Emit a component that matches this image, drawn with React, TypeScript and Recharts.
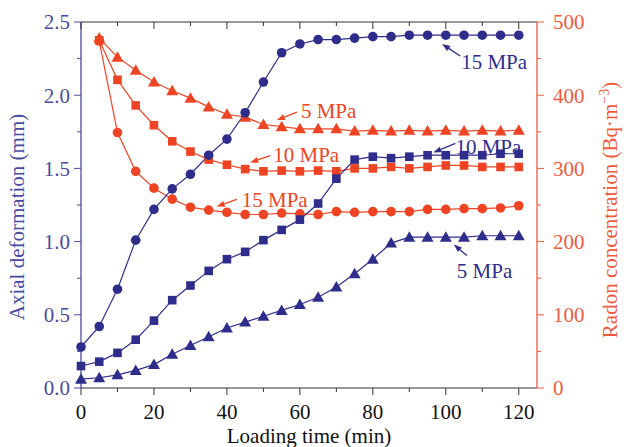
import React from "react";
import {
  ComposedChart,
  Line,
  XAxis,
  YAxis,
  ReferenceDot,
} from "recharts";

const minutes = [0, 5, 10, 15, 20, 25, 30, 35, 40, 45, 50, 55, 60, 65, 70, 75, 80, 85, 90, 95, 100, 105, 110, 115, 120];
const axial15 = [0.28, 0.42, 0.675, 1.01, 1.22, 1.36, 1.46, 1.59, 1.7, 1.88, 2.09, 2.29, 2.35, 2.38, 2.38, 2.39, 2.4, 2.4, 2.41, 2.41, 2.41, 2.41, 2.41, 2.41, 2.41];
const axial10 = [0.15, 0.18, 0.24, 0.33, 0.46, 0.6, 0.7, 0.8, 0.88, 0.93, 1.01, 1.08, 1.15, 1.26, 1.43, 1.56, 1.58, 1.57, 1.58, 1.59, 1.59, 1.59, 1.59, 1.6, 1.6];
const axial5 = [0.06, 0.07, 0.09, 0.12, 0.16, 0.23, 0.29, 0.35, 0.41, 0.45, 0.49, 0.53, 0.57, 0.62, 0.69, 0.78, 0.88, 0.99, 1.03, 1.03, 1.03, 1.03, 1.04, 1.04, 1.04];
const radon15 = [null, 474, 349, 296, 273, 258, 247, 243, 240, 237, 237, 239, 238, 237, 241, 240, 241, 241, 241, 244, 244, 245, 245, 246, 249];
const radon10 = [null, 475, 421, 386, 359, 337, 323, 312, 305, 299, 296, 297, 296, 297, 296, 300, 300, 302, 300, 302, 304, 304, 302, 302, 302];
const radon5 = [null, 478, 452, 434, 418, 406, 396, 384, 374, 370, 360, 357, 354, 354, 354, 351, 352, 351, 352, 351, 352, 351, 352, 351, 352];

const xTicks = [0, 10, 20, 30, 40, 50, 60, 70, 80, 90, 100, 110, 120];
const leftTicks = [0, 0.25, 0.5, 0.75, 1, 1.25, 1.5, 1.75, 2, 2.25, 2.5];
const rightTicks = [0, 50, 100, 150, 200, 250, 300, 350, 400, 450, 500];

const data = minutes.map((t, i) => ({
  t,
  a15: axial15[i],
  a10: axial10[i],
  a5: axial5[i],
  r15: radon15[i],
  r10: radon10[i],
  r5: radon5[i],
}));

const BLUE = "#2e2d8c";
const BLUE_AXIS = "#4a4aa2";
const RED = "#ef4424";
const RED_AXIS = "#f05a3c";
const FONT = "'Liberation Serif', 'DejaVu Serif', serif";
const FS = 21;

const circleDot = (color: string) => (p: any) => {
  if (p.value == null || p.cy == null) return <g key={p.key} />;
  return <circle key={p.key} cx={p.cx} cy={p.cy} r={4.8} fill={color} stroke="none" />;
};
const squareDot = (color: string) => (p: any) => {
  if (p.value == null || p.cy == null) return <g key={p.key} />;
  return <rect key={p.key} x={p.cx - 4.3} y={p.cy - 4.3} width={8.6} height={8.6} fill={color} stroke="none" />;
};
const triDot = (color: string) => (p: any) => {
  if (p.value == null || p.cy == null) return <g key={p.key} />;
  const { cx, cy } = p;
  return (
    <polygon
      key={p.key}
      points={`${cx},${cy - 6} ${cx - 6},${cy + 4.5} ${cx + 6},${cy + 4.5}`}
      fill={color}
      stroke="none"
    />
  );
};

const BottomTick = (p: any) => {
  const v = p.payload.value;
  const major = v % 20 === 0;
  return (
    <g>
      <line x1={p.x} x2={p.x} y1={p.y} y2={p.y + (major ? 7 : 4)} stroke="#333" />
      {major && (
        <text x={p.x} y={p.y + 31} textAnchor="middle" fontSize={FS} fontFamily={FONT} fill="#111">
          {v}
        </text>
      )}
    </g>
  );
};
const TopTick = (p: any) => {
  const v = p.payload.value;
  const major = v % 20 === 0;
  return <line x1={p.x} x2={p.x} y1={p.y} y2={p.y + (major ? 7 : 4)} stroke="#333" />;
};
const LeftTick = (p: any) => {
  const v = p.payload.value;
  const major = Math.abs(v * 2 - Math.round(v * 2)) < 1e-6;
  return (
    <g>
      <line x1={p.x} x2={p.x - (major ? 7 : 4)} y1={p.y} y2={p.y} stroke={BLUE_AXIS} />
      {major && (
        <text x={p.x - 11} y={p.y} dy="0.35em" textAnchor="end" fontSize={FS} fontFamily={FONT} fill={BLUE_AXIS}>
          {v.toFixed(1)}
        </text>
      )}
    </g>
  );
};
const RightTick = (p: any) => {
  const v = p.payload.value;
  const major = v % 100 === 0;
  return (
    <g>
      <line x1={p.x} x2={p.x + (major ? 7 : 4)} y1={p.y} y2={p.y} stroke={RED_AXIS} />
      {major && (
        <text x={p.x + 16} y={p.y} dy="0.35em" textAnchor="start" fontSize={FS} fontFamily={FONT} fill={RED_AXIS}>
          {v}
        </text>
      )}
    </g>
  );
};

// arrow with label, anchored at the arrow tip
const note = (text: string, color: string, dx: number, dy: number, tx: number, ty: number) => (p: any) => {
  const { cx, cy } = p;
  const ex = cx + dx;
  const ey = cy + dy;
  const len = Math.hypot(dx, dy);
  const ux = dx / len;
  const uy = dy / len;
  const hl = 8;
  const hw = 3;
  const bx = cx + ux * hl;
  const by = cy + uy * hl;
  return (
    <g>
      <line x1={bx} y1={by} x2={ex} y2={ey} stroke={color} strokeWidth={1.3} />
      <polygon
        points={`${cx},${cy} ${bx - uy * hw},${by + ux * hw} ${bx + uy * hw},${by - ux * hw}`}
        fill={color}
      />
      <text x={cx + tx} y={cy + ty} dy="0.35em" fontSize={FS} fontFamily={FONT} fill={color}>
        {text}
      </text>
    </g>
  );
};

export default function App() {
  return (
    <div style={{ position: "absolute", left: 0, top: 0, width: 624, height: 447, background: "#fff" }}>
      <ComposedChart
        width={624}
        height={447}
        data={data}
        margin={{ top: 0, right: 0, bottom: 0, left: 0 }}
        style={{ fontFamily: FONT }}
      >
        <XAxis
          dataKey="t"
          type="number"
          domain={[0, 125]}
          ticks={xTicks}
          height={59}
          tickSize={0}
          tickMargin={0}
          tickLine={false}
          interval={0}
          axisLine={{ stroke: "#333" }}
          tick={BottomTick}
          label={{
            content: (props: any) => {
              const vb = props.viewBox;
              return (
                <text x={vb.x + vb.width / 2} y={vb.y + 55} textAnchor="middle" fontSize={FS} fontFamily={FONT} fill="#111">
                  Loading time (min)
                </text>
              );
            },
          }}
        />
        <XAxis
          xAxisId="top"
          dataKey="t"
          type="number"
          orientation="top"
          domain={[0, 125]}
          ticks={xTicks}
          height={22}
          tickSize={0}
          tickMargin={0}
          tickLine={false}
          interval={0}
          axisLine={{ stroke: "#333" }}
          tick={TopTick}
        />
        <YAxis
          yAxisId="left"
          type="number"
          domain={[0, 2.5]}
          ticks={leftTicks}
          width={81}
          tickSize={0}
          tickMargin={0}
          tickLine={false}
          interval={0}
          axisLine={{ stroke: BLUE_AXIS, strokeWidth: 1.3 }}
          tick={LeftTick}
          label={{
            content: (props: any) => {
              const vb = props.viewBox;
              const x = vb.x + 17;
              const y = vb.y + vb.height / 2 + 12;
              return (
                <text x={x} y={y} transform={`rotate(-90 ${x} ${y})`} textAnchor="middle" dy="0.35em" fontSize={FS} fontFamily={FONT} fill={BLUE_AXIS}>
                  Axial deformation (mm)
                </text>
              );
            },
          }}
        />
        <YAxis
          yAxisId="right"
          orientation="right"
          type="number"
          domain={[0, 500]}
          ticks={rightTicks}
          width={87}
          tickSize={0}
          tickMargin={0}
          tickLine={false}
          interval={0}
          axisLine={{ stroke: RED_AXIS, strokeWidth: 1.3 }}
          tick={RightTick}
          label={{
            content: (props: any) => {
              const vb = props.viewBox;
              const x = vb.x + 73;
              const y = vb.y + vb.height / 2 + 5;
              return (
                <text x={x} y={y} transform={`rotate(-90 ${x} ${y})`} textAnchor="middle" dy="0.35em" fontSize={FS} fontFamily={FONT} fill={RED_AXIS}>
                  Radon concentration (Bq·m
                  <tspan dy="-8" fontSize={14}>−3</tspan>
                  <tspan dy="8">)</tspan>
                </text>
              );
            },
          }}
        />

        <Line yAxisId="right" dataKey="r5" stroke={RED} strokeWidth={1.2} dot={triDot(RED)} isAnimationActive={false} />
        <Line yAxisId="right" dataKey="r10" stroke={RED} strokeWidth={1.2} dot={squareDot(RED)} isAnimationActive={false} />
        <Line yAxisId="right" dataKey="r15" stroke={RED} strokeWidth={1.2} dot={circleDot(RED)} isAnimationActive={false} />
        <Line yAxisId="left" dataKey="a15" stroke={BLUE} strokeWidth={1.2} dot={circleDot(BLUE)} isAnimationActive={false} />
        <Line yAxisId="left" dataKey="a10" stroke={BLUE} strokeWidth={1.2} dot={squareDot(BLUE)} isAnimationActive={false} />
        <Line yAxisId="left" dataKey="a5" stroke={BLUE} strokeWidth={1.2} dot={triDot(BLUE)} isAnimationActive={false} />

        <ReferenceDot yAxisId="left" x={99} y={2.35} shape={note("15 MPa", BLUE, 18, 12, 19, 18)} />
        <ReferenceDot yAxisId="left" x={96.6} y={1.609} shape={note("10 MPa", BLUE, 22, -9, 22, -6)} />
        <ReferenceDot yAxisId="left" x={102.2} y={0.98} shape={note("5 MPa", BLUE, 13, 11, 3, 26)} />
        <ReferenceDot yAxisId="right" x={53.7} y={366} shape={note("5 MPa", RED, 20, -8, 24, -9)} />
        <ReferenceDot yAxisId="right" x={46.4} y={308} shape={note("10 MPa", RED, 20, -7, 23, -8)} />
        <ReferenceDot yAxisId="right" x={37.2} y={248} shape={note("15 MPa", RED, 20, -7, 25, -7)} />
      </ComposedChart>
    </div>
  );
}
